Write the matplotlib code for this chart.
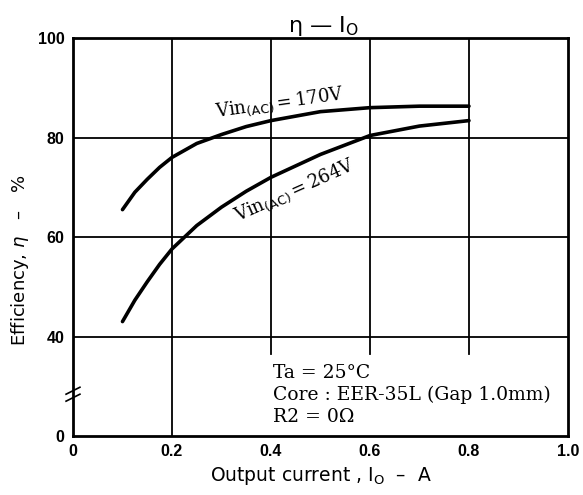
import matplotlib.pyplot as plt

# output current (A) and efficiency (%)
io_170 = [0.10, 0.125, 0.15, 0.175, 0.20, 0.25, 0.30, 0.35, 0.40, 0.50, 0.60, 0.70, 0.80]
eta_170 = [65.5, 69.0, 71.6, 74.0, 76.0, 78.8, 80.6, 82.2, 83.4, 85.2, 86.0, 86.3, 86.3]

io_264 = [0.10, 0.125, 0.15, 0.175, 0.20, 0.25, 0.30, 0.35, 0.40, 0.50, 0.60, 0.70, 0.80]
eta_264 = [43.0, 47.3, 51.0, 54.5, 57.6, 62.3, 66.0, 69.2, 72.0, 76.6, 80.4, 82.3, 83.4]

x_ticks = [0, 0.2, 0.4, 0.6, 0.8, 1.0]
x_labels = ['0', '0.2', '0.4', '0.6', '0.8', '1.0']
# broken axis: the "0" label sits where 20 would be
y_ticks = [20, 40, 60, 80, 100]
y_labels = ['0', '40', '60', '80', '100']

fig = plt.figure(figsize=(5.83, 4.95), dpi=100)
ax = fig.add_axes([0.1252, 0.1192, 0.849, 0.804])
ax.set_xlim(0, 1.0)
ax.set_ylim(20, 100)

for s in ax.spines.values():
    s.set_linewidth(2.0)

# grid
for y in [40, 60, 80]:
    ax.axhline(y, color='black', lw=1.3, zorder=1)
ax.axvline(0.2, color='black', lw=1.3, zorder=1)
for x in [0.4, 0.6, 0.8]:
    ax.plot([x, x], [36.5, 100], color='black', lw=1.3, zorder=1)

ax.plot(io_170, eta_170, color='black', lw=2.6, solid_capstyle='round', zorder=3)
ax.plot(io_264, eta_264, color='black', lw=2.6, solid_capstyle='round', zorder=3)

ax.set_xticks(x_ticks)
ax.set_xticklabels(x_labels, fontweight='bold', fontsize=11.5, family='Liberation Sans')
ax.set_yticks(y_ticks)
ax.set_yticklabels(y_labels, fontweight='bold', fontsize=11.5, family='Liberation Sans')
ax.tick_params(length=0)
ax.tick_params(axis='x', pad=6)
ax.tick_params(axis='y', pad=6)

# axis break mark
ax.plot([-0.014, 0.014], [27.0, 28.4], color='black', lw=1.2, clip_on=False, zorder=4)
ax.plot([-0.014, 0.014], [28.4, 29.8], color='black', lw=1.2, clip_on=False, zorder=4)

serif = 'DejaVu Serif'
ax.text(0.29, 84.1, r'Vin$_{\rm (AC)}$$=$170V', family=serif, fontsize=13,
        rotation=8, ha='left', va='baseline', rotation_mode='anchor')
ax.text(0.332, 63.2, r'Vin$_{\rm (AC)}$$=$264V', family=serif, fontsize=13,
        rotation=24, ha='left', va='baseline', rotation_mode='anchor')

ax.text(0.404, 31.7, 'Ta = 25°C', family=serif, fontsize=13.5, va='baseline')
ax.text(0.404, 27.2, 'Core : EER-35L (Gap 1.0mm)', family=serif, fontsize=13.5, va='baseline')
ax.text(0.404, 22.8, 'R2 = 0Ω', family=serif, fontsize=13.5, va='baseline')

ax.set_xlabel(r'Output current , I$_{\rm O}$  –  A', fontsize=13.5, family='DejaVu Sans', labelpad=4)
fig.text(20 / 583, 1 - 260 / 495, r'Efficiency, $\eta$   –   %', fontsize=13,
         family='DejaVu Sans', rotation=90, ha='center', va='center')
ax.set_title(r'η — I$_{\rm O}$', fontsize=16, family='DejaVu Sans', x=0.505, pad=3)

fig.savefig('out.png', dpi=100)
